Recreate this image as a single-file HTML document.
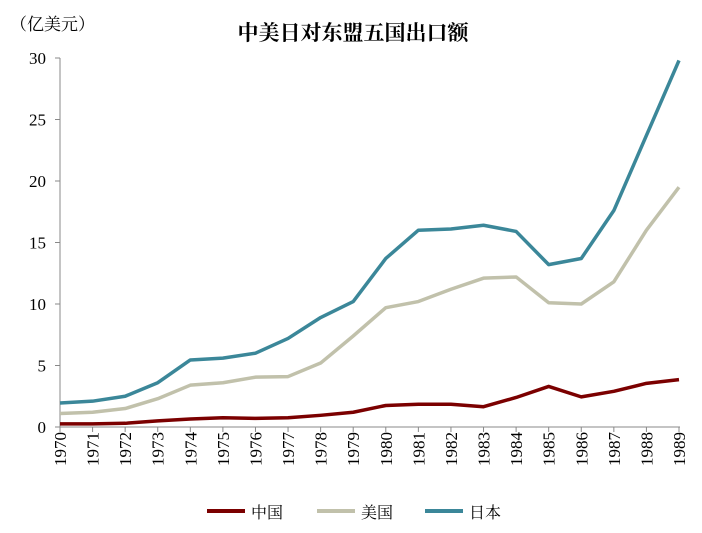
<!DOCTYPE html>
<html><head><meta charset="utf-8"><style>
body{margin:0;background:#fff;}
svg{display:block;font-family:"Liberation Serif","Noto Serif CJK SC",serif;}
</style></head><body>
<svg id="chart" width="702" height="533">
<text x="10" y="30" font-size="17" fill="#000">（亿美元）</text>
<text x="353" y="40" font-size="21" text-anchor="middle" font-weight="bold">中美日对东盟五国出口额</text>
<g id="axes"></g><g id="series"></g>
<g>
<line x1="207" y1="511" x2="245" y2="511" stroke="#7b0000" stroke-width="4"/>
<text x="251" y="518" font-size="16">中国</text>
<line x1="317" y1="511" x2="355" y2="511" stroke="#c1c1ab" stroke-width="4"/>
<text x="361" y="518" font-size="16">美国</text>
<line x1="425" y1="511" x2="463" y2="511" stroke="#3b8799" stroke-width="4"/>
<text x="469" y="518" font-size="16">日本</text>
</g>
</svg>
<script>
const years=[1970,1971,1972,1973,1974,1975,1976,1977,1978,1979,1980,1981,1982,1983,1984,1985,1986,1987,1988,1989];
const yTicks=[0,5,10,15,20,25,30];
const china=[0.25,0.25,0.3,0.5,0.65,0.75,0.7,0.75,0.95,1.2,1.75,1.85,1.85,1.65,2.4,3.3,2.45,2.9,3.55,3.85];
const usa=[1.1,1.2,1.5,2.3,3.4,3.6,4.05,4.1,5.2,7.4,9.7,10.2,11.2,12.1,12.2,10.1,10.0,11.8,16.0,19.5];
const japan=[1.95,2.1,2.5,3.6,5.45,5.6,6.0,7.2,8.9,10.2,13.7,16.0,16.1,16.4,15.9,13.2,13.7,17.6,23.7,29.8];
const NS="http://www.w3.org/2000/svg";
const x0=60,x1=679,yb=427,yt=58;
function xs(i){return x0+(x1-x0)*i/(years.length-1);}
function ys(v){return yb-(yb-yt)*v/30;}
const axes=document.getElementById('axes'),ser=document.getElementById('series');
function mk(tag,attrs,parent){const e=document.createElementNS(NS,tag);for(const k in attrs)e.setAttribute(k,attrs[k]);parent.appendChild(e);return e;}
const ya=mk('line',{x1:x0,y1:yt,x2:x0,y2:yb,stroke:'#888'},axes);


const xa=mk('line',{x1:x0,y1:yb,x2:x1+1,y2:yb,stroke:'#888'},axes);


yTicks.forEach(v=>{
 mk('line',{x1:x0-5,y1:ys(v),x2:x0,y2:ys(v),stroke:'#888'},axes);
 const t=mk('text',{x:x0-14,y:ys(v)+6,'font-size':17,'text-anchor':'end'},axes);
 t.textContent=v;
 
 
});
years.forEach((y,i)=>{
 mk('line',{x1:xs(i),y1:yb,x2:xs(i),y2:yb+5,stroke:'#888'},axes);
 const t=mk('text',{x:0,y:0,'font-size':17,'text-anchor':'end',transform:`translate(${xs(i)+6},${yb+5}) rotate(-90)`},axes);
 t.textContent=y;
 
 
});
[[china,'#7b0000','line-china'],[usa,'#c1c1ab','line-usa'],[japan,'#3b8799','line-japan']].forEach(([d,c,n])=>{
 const p=mk('polyline',{points:d.map((v,i)=>xs(i)+','+ys(v)).join(' '),fill:'none',stroke:c,'stroke-width':3.5,'stroke-linejoin':'round'},ser);
 
 
});
</script>
</body></html>
